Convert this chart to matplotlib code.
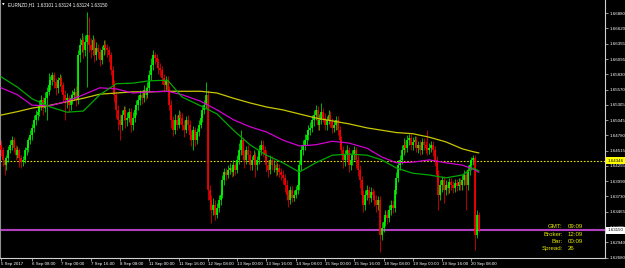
import matplotlib
matplotlib.use('Agg')
import matplotlib.pyplot as plt
import matplotlib.transforms as mtransforms
import pandas as pd

plt.rcParams['font.family'] = ['Liberation Sans', 'DejaVu Sans']

# ---- data ----
symbol = 'EURNZD,H1'
header_prices = ['1.63101', '1.63124', '1.63124', '1.63150']

first_open = 1.6462
closes = [
    1.6453, 1.6436, 1.6427, 1.6439, 1.6453, 1.6462, 1.6470, 1.6456, 1.6444, 1.6453,
    1.6439, 1.6432, 1.6436, 1.6453, 1.6456, 1.6470, 1.6479, 1.6491, 1.6505, 1.6513,
    1.6518, 1.6530, 1.6539, 1.6525, 1.6542, 1.6553, 1.6565, 1.6573, 1.6582, 1.6570,
    1.6560, 1.6573, 1.6577, 1.6565, 1.6548, 1.6539, 1.6542, 1.6530, 1.6542, 1.6548,
    1.6553, 1.6539, 1.6616, 1.6634, 1.6642, 1.6625, 1.6639, 1.6651, 1.6634, 1.6625,
    1.6642, 1.6616, 1.6628, 1.6622, 1.6608, 1.6625, 1.6634, 1.6628, 1.6625, 1.6616,
    1.6591, 1.6565, 1.6548, 1.6522, 1.6505, 1.6496, 1.6513, 1.6522, 1.6505, 1.6508,
    1.6518, 1.6496, 1.6508, 1.6522, 1.6530, 1.6539, 1.6548, 1.6542, 1.6556, 1.6548,
    1.6560, 1.6582, 1.6599, 1.6616, 1.6611, 1.6604, 1.6594, 1.6591, 1.6577, 1.6565,
    1.6573, 1.6556, 1.6530, 1.6505, 1.6487, 1.6505, 1.6496, 1.6513, 1.6508, 1.6496,
    1.6487, 1.6505, 1.6496, 1.6479, 1.6470, 1.6487, 1.6470, 1.6484, 1.6496, 1.6508,
    1.6522, 1.6530, 1.6548, 1.6384, 1.6367, 1.6350, 1.6358, 1.6341, 1.6353, 1.6367,
    1.6376, 1.6401, 1.6415, 1.6410, 1.6419, 1.6422, 1.6415, 1.6427, 1.6419, 1.6436,
    1.6453, 1.6470, 1.6444, 1.6436, 1.6453, 1.6444, 1.6427, 1.6436, 1.6444, 1.6427,
    1.6436, 1.6453, 1.6462, 1.6453, 1.6444, 1.6427, 1.6419, 1.6436, 1.6427, 1.6427,
    1.6419, 1.6422, 1.6415, 1.6410, 1.6405, 1.6393, 1.6376, 1.6367, 1.6384, 1.6370,
    1.6376, 1.6384, 1.6393, 1.6427, 1.6453, 1.6462, 1.6470, 1.6479, 1.6487, 1.6491,
    1.6505, 1.6513, 1.6522, 1.6496, 1.6505, 1.6518, 1.6508, 1.6496, 1.6505, 1.6513,
    1.6501, 1.6491, 1.6496, 1.6505, 1.6487, 1.6470, 1.6453, 1.6436, 1.6444, 1.6453,
    1.6427, 1.6436, 1.6444, 1.6453, 1.6436, 1.6419, 1.6401, 1.6376, 1.6358, 1.6376,
    1.6384, 1.6370, 1.6381, 1.6376, 1.6367, 1.6358, 1.6367, 1.6307, 1.6319, 1.6329,
    1.6341, 1.6336, 1.6350, 1.6358, 1.6353, 1.6384, 1.6405, 1.6427, 1.6436, 1.6453,
    1.6462, 1.6456, 1.6470, 1.6474, 1.6462, 1.6467, 1.6470, 1.6456, 1.6462, 1.6453,
    1.6467, 1.6462, 1.6456, 1.6453, 1.6456, 1.6462, 1.6453, 1.6436, 1.6410, 1.6376,
    1.6393, 1.6401, 1.6384, 1.6393, 1.6388, 1.6398, 1.6393, 1.6388, 1.6396, 1.6391,
    1.6398, 1.6393, 1.6401, 1.6410, 1.6393, 1.6419, 1.6427, 1.6436, 1.6439, 1.6307,
    1.6341, 1.6315,
]
highs = [
    1.6470, 1.6458, 1.6441, 1.6444, 1.6460, 1.6470, 1.6477, 1.6475, 1.6462, 1.6460,
    1.6456, 1.6444, 1.6443, 1.6458, 1.6465, 1.6475, 1.6487, 1.6498, 1.6513, 1.6522,
    1.6530, 1.6539, 1.6548, 1.6544, 1.6553, 1.6561, 1.6585, 1.6580, 1.6587, 1.6587,
    1.6577, 1.6579, 1.6584, 1.6582, 1.6570, 1.6556, 1.6551, 1.6548, 1.6549, 1.6556,
    1.6560, 1.6563, 1.6625, 1.6646, 1.6654, 1.6649, 1.6651, 1.6690, 1.6682, 1.6646,
    1.6651, 1.6646, 1.6639, 1.6635, 1.6628, 1.6632, 1.6642, 1.6642, 1.6635, 1.6632,
    1.6622, 1.6597, 1.6573, 1.6553, 1.6530, 1.6515, 1.6522, 1.6529, 1.6529, 1.6518,
    1.6525, 1.6525, 1.6518, 1.6530, 1.6539, 1.6548, 1.6556, 1.6556, 1.6565, 1.6563,
    1.6570, 1.6591, 1.6611, 1.6625, 1.6622, 1.6618, 1.6611, 1.6603, 1.6597, 1.6584,
    1.6580, 1.6580, 1.6563, 1.6539, 1.6511, 1.6515, 1.6513, 1.6522, 1.6520, 1.6517,
    1.6505, 1.6511, 1.6513, 1.6505, 1.6487, 1.6494, 1.6493, 1.6491, 1.6505, 1.6517,
    1.6530, 1.6539, 1.6570, 1.6556, 1.6393, 1.6376, 1.6370, 1.6367, 1.6362, 1.6376,
    1.6384, 1.6410, 1.6422, 1.6422, 1.6427, 1.6431, 1.6429, 1.6436, 1.6432, 1.6444,
    1.6465, 1.6487, 1.6475, 1.6453, 1.6460, 1.6462, 1.6453, 1.6443, 1.6453, 1.6450,
    1.6443, 1.6462, 1.6470, 1.6470, 1.6460, 1.6453, 1.6436, 1.6444, 1.6443, 1.6436,
    1.6434, 1.6431, 1.6429, 1.6422, 1.6419, 1.6412, 1.6401, 1.6384, 1.6391, 1.6391,
    1.6384, 1.6391, 1.6401, 1.6436, 1.6462, 1.6470, 1.6481, 1.6487, 1.6496, 1.6501,
    1.6513, 1.6522, 1.6530, 1.6529, 1.6515, 1.6534, 1.6525, 1.6517, 1.6511, 1.6522,
    1.6520, 1.6508, 1.6505, 1.6511, 1.6511, 1.6494, 1.6477, 1.6460, 1.6453, 1.6462,
    1.6458, 1.6443, 1.6453, 1.6460, 1.6458, 1.6444, 1.6427, 1.6408, 1.6384, 1.6384,
    1.6393, 1.6391, 1.6389, 1.6388, 1.6384, 1.6376, 1.6374, 1.6374, 1.6329, 1.6338,
    1.6350, 1.6350, 1.6358, 1.6367, 1.6367, 1.6393, 1.6415, 1.6436, 1.6444, 1.6462,
    1.6474, 1.6470, 1.6479, 1.6481, 1.6481, 1.6475, 1.6477, 1.6477, 1.6468, 1.6470,
    1.6474, 1.6474, 1.6468, 1.6487, 1.6465, 1.6468, 1.6468, 1.6460, 1.6443, 1.6419,
    1.6401, 1.6408, 1.6408, 1.6401, 1.6400, 1.6405, 1.6405, 1.6400, 1.6403, 1.6403,
    1.6405, 1.6405, 1.6410, 1.6419, 1.6419, 1.6427, 1.6436, 1.6441, 1.6444, 1.6444,
    1.6350, 1.6346,
]
lows = [
    1.6443, 1.6425, 1.6410, 1.6419, 1.6432, 1.6448, 1.6453, 1.6450, 1.6436, 1.6439,
    1.6424, 1.6422, 1.6425, 1.6431, 1.6444, 1.6450, 1.6463, 1.6470, 1.6484, 1.6496,
    1.6505, 1.6511, 1.6522, 1.6513, 1.6518, 1.6505, 1.6548, 1.6556, 1.6565, 1.6560,
    1.6548, 1.6551, 1.6563, 1.6553, 1.6536, 1.6505, 1.6525, 1.6518, 1.6522, 1.6532,
    1.6539, 1.6529, 1.6532, 1.6604, 1.6622, 1.6611, 1.6615, 1.6561, 1.6622, 1.6611,
    1.6616, 1.6604, 1.6608, 1.6611, 1.6597, 1.6601, 1.6616, 1.6618, 1.6613, 1.6604,
    1.6582, 1.6553, 1.6536, 1.6508, 1.6487, 1.6470, 1.6487, 1.6505, 1.6491, 1.6494,
    1.6501, 1.6484, 1.6487, 1.6501, 1.6513, 1.6522, 1.6530, 1.6532, 1.6536, 1.6539,
    1.6542, 1.6553, 1.6573, 1.6591, 1.6601, 1.6594, 1.6584, 1.6580, 1.6567, 1.6553,
    1.6556, 1.6546, 1.6522, 1.6491, 1.6477, 1.6481, 1.6487, 1.6491, 1.6498, 1.6487,
    1.6475, 1.6482, 1.6487, 1.6470, 1.6460, 1.6453, 1.6460, 1.6463, 1.6477, 1.6491,
    1.6501, 1.6515, 1.6525, 1.6367, 1.6350, 1.6327, 1.6341, 1.6333, 1.6336, 1.6346,
    1.6358, 1.6370, 1.6393, 1.6401, 1.6405, 1.6412, 1.6407, 1.6408, 1.6410, 1.6413,
    1.6429, 1.6444, 1.6436, 1.6422, 1.6429, 1.6436, 1.6419, 1.6419, 1.6431, 1.6407,
    1.6419, 1.6429, 1.6444, 1.6443, 1.6436, 1.6415, 1.6407, 1.6412, 1.6419, 1.6415,
    1.6408, 1.6410, 1.6407, 1.6401, 1.6395, 1.6381, 1.6367, 1.6355, 1.6360, 1.6364,
    1.6365, 1.6370, 1.6377, 1.6384, 1.6419, 1.6444, 1.6453, 1.6462, 1.6470, 1.6479,
    1.6484, 1.6494, 1.6505, 1.6487, 1.6487, 1.6498, 1.6501, 1.6487, 1.6487, 1.6498,
    1.6493, 1.6482, 1.6484, 1.6487, 1.6479, 1.6460, 1.6444, 1.6422, 1.6425, 1.6436,
    1.6415, 1.6419, 1.6427, 1.6436, 1.6422, 1.6408, 1.6388, 1.6364, 1.6346, 1.6350,
    1.6367, 1.6360, 1.6364, 1.6367, 1.6357, 1.6346, 1.6350, 1.6278, 1.6298, 1.6312,
    1.6322, 1.6326, 1.6329, 1.6341, 1.6345, 1.6346, 1.6377, 1.6398, 1.6419, 1.6429,
    1.6444, 1.6448, 1.6450, 1.6462, 1.6453, 1.6453, 1.6458, 1.6450, 1.6448, 1.6444,
    1.6446, 1.6453, 1.6448, 1.6444, 1.6446, 1.6450, 1.6443, 1.6425, 1.6398, 1.6350,
    1.6367, 1.6381, 1.6362, 1.6376, 1.6377, 1.6379, 1.6384, 1.6379, 1.6381, 1.6382,
    1.6384, 1.6384, 1.6384, 1.6393, 1.6350, 1.6384, 1.6410, 1.6419, 1.6427, 1.6281,
    1.6302, 1.6312,
]

# moving averages, read at these bars
ma_bars = [0, 9, 17, 27, 36, 45, 54, 63, 72, 81, 91, 99, 109, 118, 127, 136,
           145, 154, 163, 172, 181, 190, 200, 208, 216, 225, 234, 243, 252, 258, 261]
ma_slow = [1.6513, 1.6519, 1.6525, 1.6530, 1.6536, 1.6542, 1.6549, 1.6551, 1.6553,
           1.6553, 1.6554, 1.6554, 1.6554, 1.6551, 1.6542, 1.6534, 1.6527, 1.6522,
           1.6515, 1.6508, 1.6503, 1.6498, 1.6491, 1.6487, 1.6483, 1.6481, 1.6475,
           1.6467, 1.6455, 1.6450, 1.6448]
ma_mid = [1.6560, 1.6548, 1.6530, 1.6529, 1.6537, 1.6548, 1.6560, 1.6558, 1.6551,
          1.6553, 1.6554, 1.6548, 1.6537, 1.6522, 1.6505, 1.6493, 1.6484, 1.6470,
          1.6460, 1.6462, 1.6468, 1.6465, 1.6456, 1.6441, 1.6431, 1.6432, 1.6436,
          1.6431, 1.6427, 1.6420, 1.6415]
ma_fast = [1.6579, 1.6561, 1.6541, 1.6527, 1.6518, 1.6520, 1.6548, 1.6567, 1.6568,
           1.6572, 1.6573, 1.6544, 1.6529, 1.6515, 1.6487, 1.6462, 1.6444, 1.6431,
           1.6415, 1.6431, 1.6444, 1.6446, 1.6444, 1.6436, 1.6422, 1.6413, 1.6410,
           1.6405, 1.6410, 1.6422, 1.6417]

level_line = 1.64346
bid = 1.63150
ask = 1.63176

price_ticks = [1.66880, 1.66620, 1.66355, 1.66095, 1.65830, 1.65570, 1.65305,
               1.65045, 1.64780, 1.64515, 1.64255, 1.63990, 1.63730, 1.63465,
               1.63205, 1.62940, 1.62680]

time_labels = ['5 Sep 2017', '6 Sep 08:00', '7 Sep 00:00', '7 Sep 16:00', '8 Sep 08:00',
               '11 Sep 00:00', '11 Sep 16:00', '12 Sep 08:00', '13 Sep 00:00',
               '13 Sep 16:00', '14 Sep 08:00', '15 Sep 00:00', '15 Sep 16:00',
               '18 Sep 08:00', '19 Sep 00:00', '19 Sep 16:00', '20 Sep 08:00']
label_times = ['2017-09-05 15:00', '2017-09-06 08:00', '2017-09-07 00:00',
               '2017-09-07 16:00', '2017-09-08 08:00', '2017-09-11 00:00',
               '2017-09-11 16:00', '2017-09-12 08:00', '2017-09-13 00:00',
               '2017-09-13 16:00', '2017-09-14 08:00', '2017-09-15 00:00',
               '2017-09-15 16:00', '2017-09-18 08:00', '2017-09-19 00:00',
               '2017-09-19 16:00', '2017-09-20 08:00']

info_keys = ['GMT:', 'Broker:', 'Bar:', 'Spread:']
info_vals = ['09:09', '12:09', '00:09', '26']

# hourly bars, weekends skipped
hours = pd.date_range('2017-09-05 15:00', '2017-09-20 12:00', freq='h')
bar_times = hours[hours.dayofweek < 5]
x = list(range(len(closes)))
opens = [first_open] + closes[:-1]

fig = plt.figure(figsize=(6.25, 2.68), dpi=100, facecolor='black')
ax = fig.add_axes([0, 10 / 268, 605 / 625, 258 / 268])
ax.set_facecolor('black')
ax.set_xlim(-0.55, 330)
ax.set_ylim(1.62672, 1.67110)

bull = '#00ff00'
bear = '#ff0000'
colors = [bull if c >= o else bear for o, c in zip(opens, closes)]
ax.vlines(x, lows, highs, colors=colors, linewidth=0.5, zorder=3)
body_lo = [min(o, c) for o, c in zip(opens, closes)]
body_hi = [max(max(o, c), min(o, c) + 0.00005) for o, c in zip(opens, closes)]
ax.vlines(x, body_lo, body_hi, colors=colors, linewidth=1.2, zorder=3)

ax.plot(ma_bars, ma_slow, color='#c8c800', linewidth=0.9, zorder=4)
ax.plot(ma_bars, ma_mid, color='#d000d0', linewidth=0.9, zorder=4)
ax.plot(ma_bars, ma_fast, color='#00a800', linewidth=0.9, zorder=4)

ax.axhline(level_line, color='#e8e000', linewidth=0.8, linestyle=(0, (1.5, 1.5)), zorder=2)
ax.axhline(ask, color='#b040c0', linewidth=0.8, zorder=2)
ax.axhline(bid, color='#b040c0', linewidth=0.8, zorder=2)

for side in ['top']:
    ax.spines[side].set_visible(False)
ax.spines['right'].set_color('#d0d0d0')
ax.spines['bottom'].set_color('#d0d0d0')
ax.spines['left'].set_color('#909090')
for side in ['right', 'bottom', 'left']:
    ax.spines[side].set_linewidth(0.8)

ax.yaxis.tick_right()
ax.set_yticks(price_ticks)
ax.set_yticklabels(['%.5f' % p for p in price_ticks])
ax.tick_params(axis='y', length=2, width=0.5, colors='#d0d0d0', labelsize=3.2,
               labelcolor='white', pad=1.5)

tick_bars = bar_times.get_indexer(pd.to_datetime(label_times))
ax.set_xticks(tick_bars)
ax.set_xticklabels(time_labels, ha='left')
ax.tick_params(axis='x', length=2, width=0.5, colors='#d0d0d0', labelsize=3.2,
               labelcolor='white', pad=1)

tr = mtransforms.blended_transform_factory(ax.transAxes, ax.transData)
ax.text(1.004, level_line, '%.5f' % level_line, transform=tr, fontsize=3.2, color='black',
        va='center', ha='left', clip_on=False, zorder=10,
        bbox=dict(boxstyle='square,pad=0.35', facecolor='#ffff00', edgecolor='none'))
ax.text(1.004, bid, '%.5f' % bid, transform=tr, fontsize=3.2, color='black',
        va='center', ha='left', clip_on=False, zorder=10,
        bbox=dict(boxstyle='square,pad=0.35', facecolor='white', edgecolor='none'))

fig.text(2 / 625, 1 - 5 / 268, '\u25bc', color='white', fontsize=2.5, va='center',
         family='DejaVu Sans')
fig.text(8 / 625, 1 - 5 / 268, symbol + '  ' + ' '.join(header_prices), color='white',
         fontsize=3.3, va='center')

for k, (key, val) in enumerate(zip(info_keys, info_vals)):
    yy = 1 - (227 + 7.2 * k) / 268
    fig.text(563 / 625, yy, key, color='#e6e600', fontsize=4.4, ha='right', va='center')
    fig.text(568 / 625, yy, val, color='#e6e600', fontsize=4.4, ha='left', va='center')

fig.savefig('out.png', dpi=100, facecolor='black')
